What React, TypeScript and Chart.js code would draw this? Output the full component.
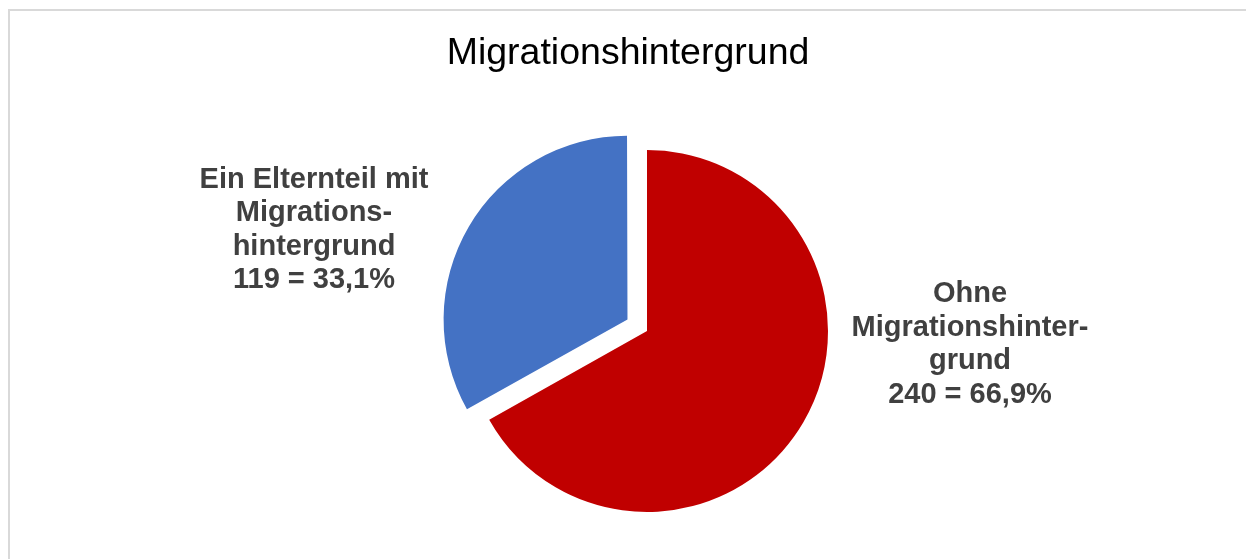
import React, { useEffect, useRef } from "react";
import { Chart, registerables } from "chart.js";

Chart.register(...registerables);

const TITLE = "Migrationshintergrund";
const categories = [
  ["Ohne", "Migrationshinter-", "grund"],
  ["Ein Elternteil mit", "Migrations-", "hintergrund"],
];
const values = [240, 119];
const colors = ["#C00000", "#4472C4"];

const labelPlugin = {
  id: "sliceLabels",
  afterDatasetsDraw(chart: any, _args: any, opts: any) {
    const ctx = chart.ctx;
    const meta = chart.getDatasetMeta(0);
    const total = values.reduce((a, b) => a + b, 0);
    ctx.save();
    ctx.font = opts.font;
    ctx.fillStyle = opts.color;
    ctx.textAlign = "center";
    ctx.textBaseline = "middle";
    meta.data.forEach((arc: any, i: number) => {
      const pct = ((values[i] / total) * 100).toFixed(1).replace(".", ",");
      const lines = [...categories[i], `${values[i]} = ${pct}%`];
      const [dx, dy] = opts.offsets[i];
      const cx = arc.x + dx;
      const cy = arc.y + dy;
      const lh = opts.lineHeight;
      lines.forEach((ln, k) => {
        ctx.fillText(ln, cx, cy + (k - (lines.length - 1) / 2) * lh);
      });
    });
    ctx.restore();
  },
};

const titlePlugin = {
  id: "customTitle",
  afterDraw(chart: any, _args: any, opts: any) {
    const ctx = chart.ctx;
    ctx.save();
    ctx.font = opts.font;
    ctx.fillStyle = opts.color;
    ctx.textAlign = "center";
    ctx.textBaseline = "middle";
    ctx.fillText(TITLE, chart.width / 2 + opts.dx, opts.y);
    ctx.restore();
  },
};

export default function App() {
  const ref = useRef<HTMLCanvasElement | null>(null);
  useEffect(() => {
    if (!ref.current) return;
    const total = values.reduce((a, b) => a + b, 0);
    const explodePx = 25.5;
    const offsets = values.map((v, i) => {
      if (i !== 1) return 0;
      const circ = (v / total) * Math.PI * 2;
      const fix = 1 - Math.sin(Math.min(Math.PI, circ));
      return explodePx / (0.25 * (1 + fix));
    });
    const chart = new Chart(ref.current, {
      type: "pie",
      data: {
        labels: categories.map((c) => c.join(" ")),
        datasets: [
          {
            data: values,
            backgroundColor: colors,
            borderWidth: 0,
            offset: offsets,
          },
        ],
      },
      options: {
        animation: false,
        responsive: false,
        maintainAspectRatio: false,
        radius: 181,
        layout: { padding: { left: 48, right: 0, top: 103, bottom: 0 } },
        plugins: {
          legend: { display: false },
          title: { display: false },
          tooltip: { enabled: false },
          sliceLabels: {
            font: "bold 29px 'Liberation Sans', Arial, sans-serif",
            color: "#404040",
            lineHeight: 33.5,
            offsets: [
              [323, 13.5],
              [-333, -101],
            ],
          },
          customTitle: {
            font: "37.5px 'Liberation Sans', Arial, sans-serif",
            color: "#000000",
            dx: 5,
            y: 54,
          },
        } as any,
      },
      plugins: [labelPlugin, titlePlugin],
    });
    return () => chart.destroy();
  }, []);

  return (
    <div
      style={{
        position: "absolute",
        left: 0,
        top: 0,
        width: 1246,
        height: 559,
        overflow: "hidden",
        background: "#fff",
      }}
    >
      <div
        style={{
          position: "absolute",
          left: 8,
          top: 9,
          width: 1300,
          height: 600,
          border: "2px solid #d9d9d9",
          boxSizing: "border-box",
        }}
      />
      <canvas
        ref={ref}
        width={1246}
        height={559}
        style={{ position: "absolute", left: 0, top: 0, width: 1246, height: 559 }}
      />
    </div>
  );
}
